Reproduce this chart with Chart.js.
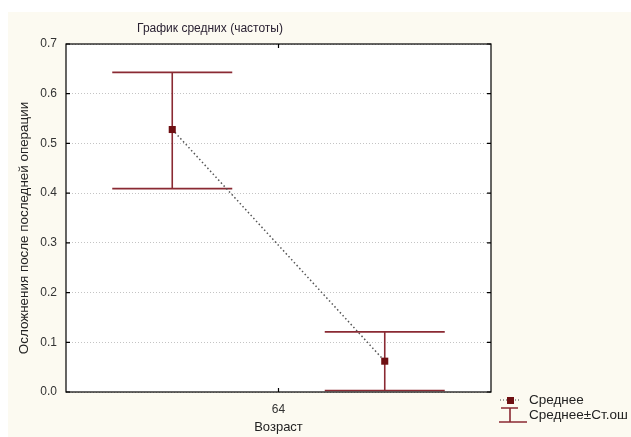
<html>
<head>
<meta charset="utf-8">
<title>График средних</title>
<script src="https://cdn.jsdelivr.net/npm/chart.js@4.4.0/dist/chart.umd.min.js"></script>
<style>
  body { margin: 0; background: #ffffff; }
  #wrap { position: relative; width: 631px; height: 437px; }
</style>
</head>
<body>
<div id="wrap"><canvas id="myChart" width="631" height="437"></canvas></div>
<script>
// data
const tickLabels = ['64'];
const groupPos = [1, 3];
const means = [0.528, 0.062];
const upperSE = [0.643, 0.121];
const lowerSE = [0.409, 0.003];

const titleText = 'График средних (частоты)';
const yTitle = 'Осложнения после последней операции';
const xTitle = 'Возраст';
const legendItems = ['Среднее', 'Среднее±Ст.ош'];

const barColor = '#8a2a33';
const markColor = '#6e0f12';
const FONT = '"Liberation Sans", Arial, sans-serif';

// background, frame, error bars, titles and legend
const extras = {
  id: 'extras',
  beforeDraw(chart) {
    const c = chart.ctx, a = chart.chartArea;
    c.save();
    c.fillStyle = '#fcfaf1';
    c.fillRect(8, 12, chart.width - 8, chart.height - 12);
    c.fillStyle = '#ffffff';
    c.fillRect(a.left, a.top, a.right - a.left, a.bottom - a.top);
    c.restore();
  },
  beforeDatasetsDraw(chart) {
    const c = chart.ctx, xs = chart.scales.x, ys = chart.scales.y;
    c.save();
    c.strokeStyle = barColor;
    c.lineWidth = 1.6;
    for (let i = 0; i < groupPos.length; i++) {
      const x = xs.getPixelForValue(groupPos[i]);
      const yt = ys.getPixelForValue(upperSE[i]);
      const yb = ys.getPixelForValue(lowerSE[i]);
      c.beginPath();
      c.moveTo(x, yt); c.lineTo(x, yb);
      c.moveTo(x - 60, yt); c.lineTo(x + 60, yt);
      c.moveTo(x - 60, yb); c.lineTo(x + 60, yb);
      c.stroke();
    }
    c.restore();
  },
  afterDraw(chart) {
    const c = chart.ctx, a = chart.chartArea, xs = chart.scales.x, ys = chart.scales.y;
    c.save();
    // frame
    c.strokeStyle = '#000';
    c.lineWidth = 1.2;
    c.strokeRect(a.left, a.top, a.right - a.left, a.bottom - a.top);
    // inner tick marks
    c.beginPath();
    ys.ticks.forEach(t => {
      const y = ys.getPixelForValue(t.value);
      c.moveTo(a.left, y); c.lineTo(a.left + 4, y);
      c.moveTo(a.right, y); c.lineTo(a.right - 4, y);
    });
    const xm = xs.getPixelForValue(2);
    c.moveTo(xm, a.top); c.lineTo(xm, a.top + 4);
    c.moveTo(xm, a.bottom); c.lineTo(xm, a.bottom - 4);
    c.stroke();
    // title
    c.fillStyle = '#2b2233';
    c.font = '12px ' + FONT;
    c.textAlign = 'center';
    c.textBaseline = 'middle';
    c.fillText(titleText, 210, 29);
    // y axis title
    c.fillStyle = '#222';
    c.font = '13.4px ' + FONT;
    c.save();
    c.translate(24, 228);
    c.rotate(-Math.PI / 2);
    c.fillText(yTitle, 0, 0);
    c.restore();
    // legend
    c.textAlign = 'left';
    c.font = '13.5px ' + FONT;
    c.fillText(legendItems[0], 529, 400);
    c.fillText(legendItems[1], 529, 415);
    c.strokeStyle = '#444';
    c.lineWidth = 1;
    c.setLineDash([1, 2]);
    c.beginPath(); c.moveTo(500, 400); c.lineTo(521, 400); c.stroke();
    c.setLineDash([]);
    c.fillStyle = markColor;
    c.fillRect(507, 397, 7, 7);
    c.strokeStyle = barColor;
    c.lineWidth = 1.6;
    c.beginPath();
    c.moveTo(501, 408); c.lineTo(518, 408);
    c.moveTo(510, 408); c.lineTo(510, 422);
    c.moveTo(499, 422); c.lineTo(527, 422);
    c.stroke();
    c.restore();
  }
};

const ctx = document.getElementById('myChart').getContext('2d');
new Chart(ctx, {
  type: 'line',
  data: {
    datasets: [{
      label: legendItems[0],
      data: groupPos.map((p, i) => ({ x: p, y: means[i] })),
      borderColor: '#555',
      borderWidth: 1.5,
      borderDash: [1.5, 2.5],
      pointStyle: 'rect',
      pointRadius: 5,
      pointBackgroundColor: markColor,
      pointBorderColor: markColor,
      pointBorderWidth: 0,
      fill: false
    }]
  },
  options: {
    responsive: false,
    animation: false,
    layout: { padding: { left: 0, right: 140, top: 44, bottom: 0 } },
    plugins: { legend: { display: false }, tooltip: { enabled: false }, title: { display: false } },
    scales: {
      x: {
        type: 'linear', min: 0, max: 4,
        afterBuildTicks(s) { s.ticks = [{ value: 2 }]; },
        afterFit(s) { s.height = 45; },
        grid: { display: false, drawTicks: false },
        border: { display: false },
        ticks: { padding: 10, color: '#333', font: { family: FONT, size: 12 }, callback: () => tickLabels[0] },
        title: { display: true, text: xTitle, color: '#222', font: { family: FONT, size: 13 }, padding: { top: 0, bottom: 2 } }
      },
      y: {
        min: 0, max: 0.7,
        afterFit(s) { s.width = 66; },
        grid: { color: '#c4c4c4', lineWidth: 1, drawTicks: false },
        border: { display: false, dash: [1, 2] },
        ticks: { stepSize: 0.1, padding: 9, color: '#333', font: { family: FONT, size: 12 }, callback: v => v.toFixed(1) },
        title: { display: false }
      }
    }
  },
  plugins: [extras]
});
</script>
</body>
</html>
